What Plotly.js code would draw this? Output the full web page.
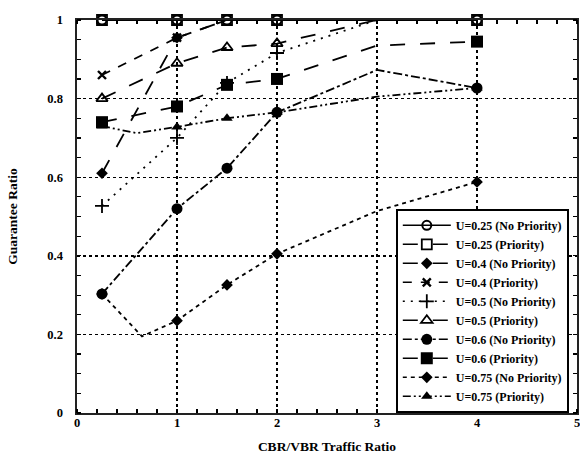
<!DOCTYPE html>
<html>
<head>
<meta charset="utf-8">
<script src="https://cdn.plot.ly/plotly-3.0.1.min.js"></script>
<style>html,body{margin:0;padding:0;background:#fff;}#chart{width:580px;height:456px;}</style>
</head>
<body>
<div id="chart"></div>
<script>
// ---- data ----
var cbrRatio = [0.25, 1, 1.5, 2, 3, 4];
var markedRatios = [0.25, 1, 1.5, 2, 4];

var u025NoPri = [1, 1, 1, 1, 1, 1];
var u025Pri   = [1, 1, 1, 1, 1, 1];
var u04NoPri  = [0.61, 0.955, 1, 1, 1, 1];
var u04Pri    = [0.86, 0.955, 1, 1, 1, 1];
var u05NoPri  = [0.527, 0.70, 0.84, 0.916, 1, 1];
var u05Pri    = [0.80, 0.89, 0.93, 0.94, 1, 1];
var u06NoPri  = [0.303, 0.52, 0.623, 0.765, 0.873, 0.827];
var u06Pri    = [0.74, 0.78, 0.835, 0.85, 0.935, 0.945];
var u075NoPriX = [0.25, 0.65, 1, 1.5, 2, 3, 4];
var u075NoPri  = [0.303, 0.195, 0.235, 0.326, 0.405, 0.514, 0.588];
var u075PriX   = [0.25, 0.6, 1, 1.5, 2, 3, 4];
var u075Pri    = [0.73, 0.712, 0.728, 0.75, 0.765, 0.805, 0.827];

var seriesNames = [
  'U=0.25 (No Priority)', 'U=0.25 (Priority)',
  'U=0.4 (No Priority)', 'U=0.4 (Priority)',
  'U=0.5 (No Priority)', 'U=0.5 (Priority)',
  'U=0.6 (No Priority)', 'U=0.6 (Priority)',
  'U=0.75 (No Priority)', 'U=0.75 (Priority)'
];
var tickValsX = [0, 1, 2, 3, 4, 5];
var tickValsY = [0, 0.2, 0.4, 0.6, 0.8, 1];
var tickTextY = ['0', '0.2', '0.4', '0.6', '0.8', '1'];

// ---- styles ----
var styles = [
  {sym: 'circle-open', size: 9, lw: 2, dash: 'solid', hideAtTop: false},
  {sym: 'square-open', size: 10, lw: 1.8, dash: 'longdash', hideAtTop: false},
  {sym: 'diamond', size: 9, lw: 0, dash: 'longdash', hideAtTop: true},
  {sym: 'x-thin-open', size: 8, lw: 2.4, dash: 'dash', hideAtTop: true},
  {sym: 'cross-thin-open', size: 10, lw: 1.8, dash: '2px,6px', hideAtTop: true},
  {sym: 'triangle-up-open', size: 10, lw: 1.8, dash: 'longdash', hideAtTop: true},
  {sym: 'circle', size: 11, lw: 0, dash: 'dashdot', hideAtTop: true},
  {sym: 'square', size: 12, lw: 0, dash: 'longdash', hideAtTop: true},
  {sym: 'diamond', size: 9, lw: 0, dash: '4px,4px', hideAtTop: true},
  {sym: 'triangle-up', size: 10, lw: 0, dash: '8px,3px,2px,3px,2px,3px', hideAtTop: true}
];
var xs = [cbrRatio, cbrRatio, cbrRatio, cbrRatio, cbrRatio, cbrRatio, cbrRatio, cbrRatio, u075NoPriX, u075PriX];
var ys = [u025NoPri, u025Pri, u04NoPri, u04Pri, u05NoPri, u05Pri, u06NoPri, u06Pri, u075NoPri, u075Pri];

var traces = [];
for (var i = 0; i < ys.length; i++) {
  var st = styles[i];
  var yy = ys[i];
  var op = xs[i].map(function (v, k) {
    if (markedRatios.indexOf(v) < 0) return 0;
    if (st.hideAtTop && yy[k] >= 1) return 0;
    return 1;
  });
  traces.push({
    type: 'scatter', mode: 'lines+markers', x: xs[i], y: yy, name: seriesNames[i],
    showlegend: false, cliponaxis: false,
    line: {color: '#000', width: 1.8, dash: st.dash},
    marker: {symbol: st.sym, size: st.size, color: '#000', opacity: op, line: {color: '#000', width: st.lw}}
  });
}
for (var j = 0; j < ys.length; j++) {
  var s2 = styles[j];
  traces.push({
    type: 'scatter', mode: 'lines+markers', x: [null], y: [null], name: seriesNames[j],
    showlegend: true,
    line: {color: '#000', width: 1.6, dash: s2.dash},
    marker: {symbol: s2.sym, size: s2.size, color: '#000', line: {color: '#000', width: s2.lw}}
  });
}

var fontFam = '"Liberation Serif", "Times New Roman", serif';
var layout = {
  width: 580, height: 456,
  margin: {l: 77, r: 3, t: 20, b: 43, autoexpand: false},
  paper_bgcolor: '#fff', plot_bgcolor: '#fff',
  font: {family: fontFam, color: '#000', size: 12},
  showlegend: true,
  legend: {
    x: 0.638, y: 0, xanchor: 'left', yanchor: 'bottom',
    bgcolor: '#fff', bordercolor: '#000', borderwidth: 1.8,
    font: {family: fontFam, size: 12, weight: 'bold', color: '#000'},
    itemwidth: 48, tracegroupgap: 0
  },
  xaxis: {
    range: [0, 5], tickvals: tickValsX, ticktext: tickValsX.map(String),
    showgrid: true, gridcolor: '#000', gridwidth: 1.4, griddash: 'dot',
    zeroline: false, showline: true, linecolor: '#222', linewidth: 1.6, mirror: 'allticks',
    ticks: '', ticklen: 0, ticklabelstandoff: -3, ticklabeloverflow: 'allow',
    tickfont: {family: fontFam, size: 12.5, weight: 'bold', color: '#000'},
    minor: {dtick: 0.2, ticks: 'inside', ticklen: 4, tickcolor: '#000', tickwidth: 1.2, showgrid: false},
    title: {text: 'CBR/VBR Traffic Ratio', font: {family: fontFam, size: 13.5, weight: 'bold', color: '#000'}, standoff: 13},
    fixedrange: true
  },
  yaxis: {
    range: [0, 1], tickvals: tickValsY, ticktext: tickTextY,
    showgrid: true, gridcolor: '#000', gridwidth: 1.4, griddash: 'dot',
    zeroline: false, showline: true, linecolor: '#222', linewidth: 1.6, mirror: 'allticks',
    ticks: '', ticklen: 0, ticklabelstandoff: 10, ticklabeloverflow: 'allow',
    tickfont: {family: fontFam, size: 12.5, weight: 'bold', color: '#000'},
    minor: {dtick: 0.05, ticks: 'inside', ticklen: 4, tickcolor: '#000', tickwidth: 1.2, showgrid: false},
    title: {text: 'Guarantee Ratio', font: {family: fontFam, size: 13.5, weight: 'bold', color: '#000'}, standoff: 26},
    fixedrange: true
  }
};

Plotly.newPlot('chart', traces, layout, {displayModeBar: false, staticPlot: true});
</script>
</body>
</html>
